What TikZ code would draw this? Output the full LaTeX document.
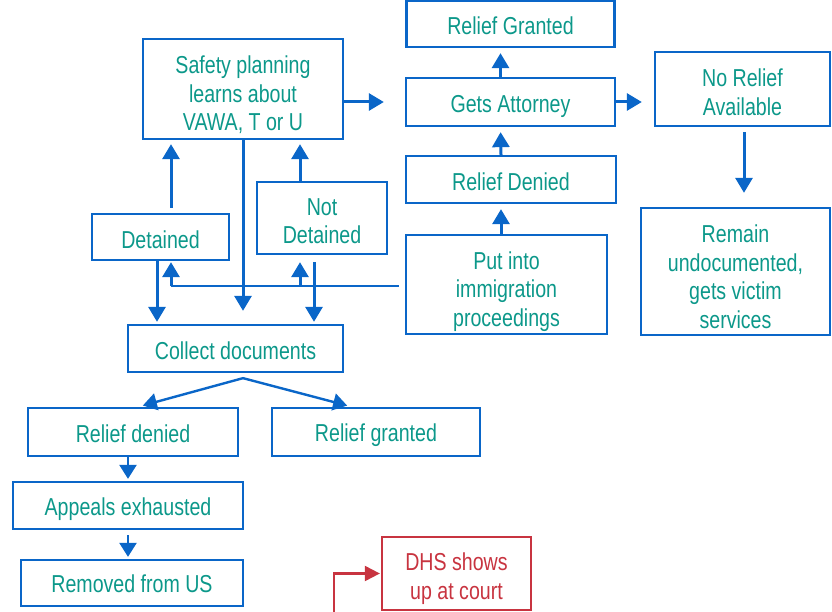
\documentclass[tikz,border=0pt]{standalone}
\usepackage{fontspec}
\setmainfont{Liberation Sans}[FakeStretch=0.8]
\usetikzlibrary{arrows.meta}
\definecolor{boxblue}{RGB}{10,102,200}
\definecolor{textteal}{RGB}{12,152,138}
\definecolor{dhsred}{RGB}{200,52,64}
\tikzset{
  box/.style={draw=boxblue, line width=2.3pt, rectangle, inner sep=0pt},
  txt/.style={inner sep=0pt, align=center, text=textteal,
    font=\fontsize{24.5}{28.5}\selectfont},
  arr/.style={draw=boxblue, line width=3pt,
    -{Triangle[width=17pt,length=15pt]}},
  thin arr/.style={draw=boxblue, line width=2.4pt,
    -{Triangle[width=17pt,length=14pt]}},
  plain/.style={draw=boxblue, line width=2.2pt},
  redbox/.style={box, draw=dhsred},
  redtxt/.style={txt, text=dhsred},
  redarr/.style={draw=dhsred, line width=2.2pt,
    -{Triangle[width=15pt,length=15pt]}},
}
\begin{document}
\begin{tikzpicture}[x=1pt,y=-1pt]
\useasboundingbox (0,0) rectangle (832,612);

% boxes
\node[box, minimum width=200pt, minimum height=100pt] (safety) at (243,89) {};
\node[box, minimum width=208pt, minimum height=46pt] (rgtop) at (510.5,24) {};
\node[box, minimum width=209pt, minimum height=48pt] (atty) at (510.5,102) {};
\node[box, minimum width=175pt, minimum height=74pt] (norel) at (742.5,89) {};
\node[box, minimum width=210pt, minimum height=47pt] (rdenR) at (511,179.5) {};
\node[box, minimum width=201pt, minimum height=99pt] (put) at (506.5,284.5) {};
\node[box, minimum width=189pt, minimum height=127pt] (remain) at (735.5,271.5) {};
\node[box, minimum width=137pt, minimum height=46pt] (det) at (160.5,237) {};
\node[box, minimum width=130pt, minimum height=72pt] (notdet) at (322,218) {};
\node[box, minimum width=215pt, minimum height=47pt] (collect) at (235.5,348.5) {};
\node[box, minimum width=210pt, minimum height=48pt] (rdenL) at (133,432) {};
\node[box, minimum width=208pt, minimum height=48pt] (rgrant) at (376,432) {};
\node[box, minimum width=230pt, minimum height=47pt] (appeals) at (128,505.5) {};
\node[box, minimum width=222pt, minimum height=46pt] (removed) at (132,583) {};
\node[redbox, minimum width=149pt, minimum height=73pt] (dhs) at (456.5,573.5) {};

% box texts
\node[txt] (safety-t) at ([yshift=-6pt]safety.center) {Safety planning\\learns about\\VAWA, T or U};
\node[txt] (rgtop-t) at ([yshift=-2pt]rgtop.center) {Relief Granted};
\node[txt] (atty-t) at ([yshift=-4pt]atty.center) {Gets Attorney};
\node[txt] (norel-t) at ([yshift=-3pt]norel.center) {No Relief\\Available};
\node[txt] (rdenR-t) at ([yshift=-2pt]rdenR.center) {Relief Denied};
\node[txt] (put-t) at ([yshift=-7pt]put.center) {Put into\\immigration\\proceedings};
\node[txt] (remain-t) at ([yshift=-5pt]remain.center) {Remain\\undocumented,\\gets victim\\services};
\node[txt] (det-t) at ([yshift=-3pt]det.center) {Detained};
\node[txt] (notdet-t) at ([yshift=-3pt]notdet.center) {Not\\Detained};
\node[txt] (collect-t) at ([yshift=-2pt]collect.center) {Collect documents};
\node[txt] (rdenL-t) at ([yshift=-2pt]rdenL.center) {Relief denied};
\node[txt] (rgrant-t) at ([yshift=-3pt]rgrant.center) {Relief granted};
\node[txt] (appeals-t) at ([yshift=-4pt]appeals.center) {Appeals exhausted};
\node[txt] (removed-t) at ([yshift=-1pt]removed.center) {Removed from US};
\node[redtxt] (dhs-t) at ([yshift=-5pt]dhs.center) {DHS shows\\up at court};

% upper right chain
\draw[arr, shorten >=21pt] (safety.east |- atty.west) -- (atty.west);
\draw[arr, shorten >=5pt] ([xshift=-10pt]atty.north) -- ([xshift=-10pt]rgtop.south);
\draw[arr, shorten >=5pt] ([xshift=-10pt]rdenR.north) -- ([xshift=-10pt]atty.south);
\draw[arr, shorten >=5pt] ([xshift=-5.5pt]put.north) -- ([xshift=-10pt]rdenR.south);
\draw[arr, shorten >=12pt] (atty.east) -- (atty.east -| norel.west);
\draw[arr, shorten <=5pt, shorten >=14pt] ([xshift=1.5pt]norel.south) -- ([xshift=8.5pt]remain.north);

% detained / not detained
\coordinate (detup) at (171,208);
\draw[arr, shorten >=4pt] (detup) -- (detup |- safety.south);
\draw[arr, shorten >=4pt] ([xshift=-22pt]notdet.north) -- ([xshift=57pt]safety.south);
\draw[arr, shorten >=13pt] (safety.south) -- (safety.south |- collect.north);
\draw[arr, shorten >=2pt] ([xshift=-3.5pt]det.south) -- ([xshift=-78.5pt]collect.north);
\draw[arr, shorten <=7pt, shorten >=2pt] ([xshift=-8pt]notdet.south) -- ([xshift=78.5pt]collect.north);

% feedback from immigration proceedings
\coordinate (fbstart) at ([xshift=-6pt]put.west |- 0,286);
\coordinate (fbdet) at (171,286);
\coordinate (fbnot) at (300,286);
\draw[plain] (fbstart) -- (fbdet);
\draw[arr, shorten >=1pt] (fbdet) -- (fbdet |- det.south);
\draw[arr, shorten >=7pt] (fbnot) -- (fbnot |- notdet.south);

% outcomes of collected documents
\coordinate (split) at ([xshift=7.5pt,yshift=-5pt]collect.south);
\draw[thin arr, shorten >=5pt] (split) -- ([xshift=5pt]rdenL.north);
\draw[thin arr, shorten >=5pt] (split) -- ([xshift=-24pt]rgrant.north);
\draw[thin arr, shorten >=2pt] ([xshift=-5pt]rdenL.south) -- ([xshift=0pt]appeals.north);
\draw[thin arr, shorten <=5pt, shorten >=2pt] (appeals.south) -- ([xshift=-4pt]removed.north);

% court appearance
\coordinate (courtin) at (334,612);
\draw[redarr, shorten >=1pt] (courtin) |- (dhs.west);
\end{tikzpicture}
\end{document}
